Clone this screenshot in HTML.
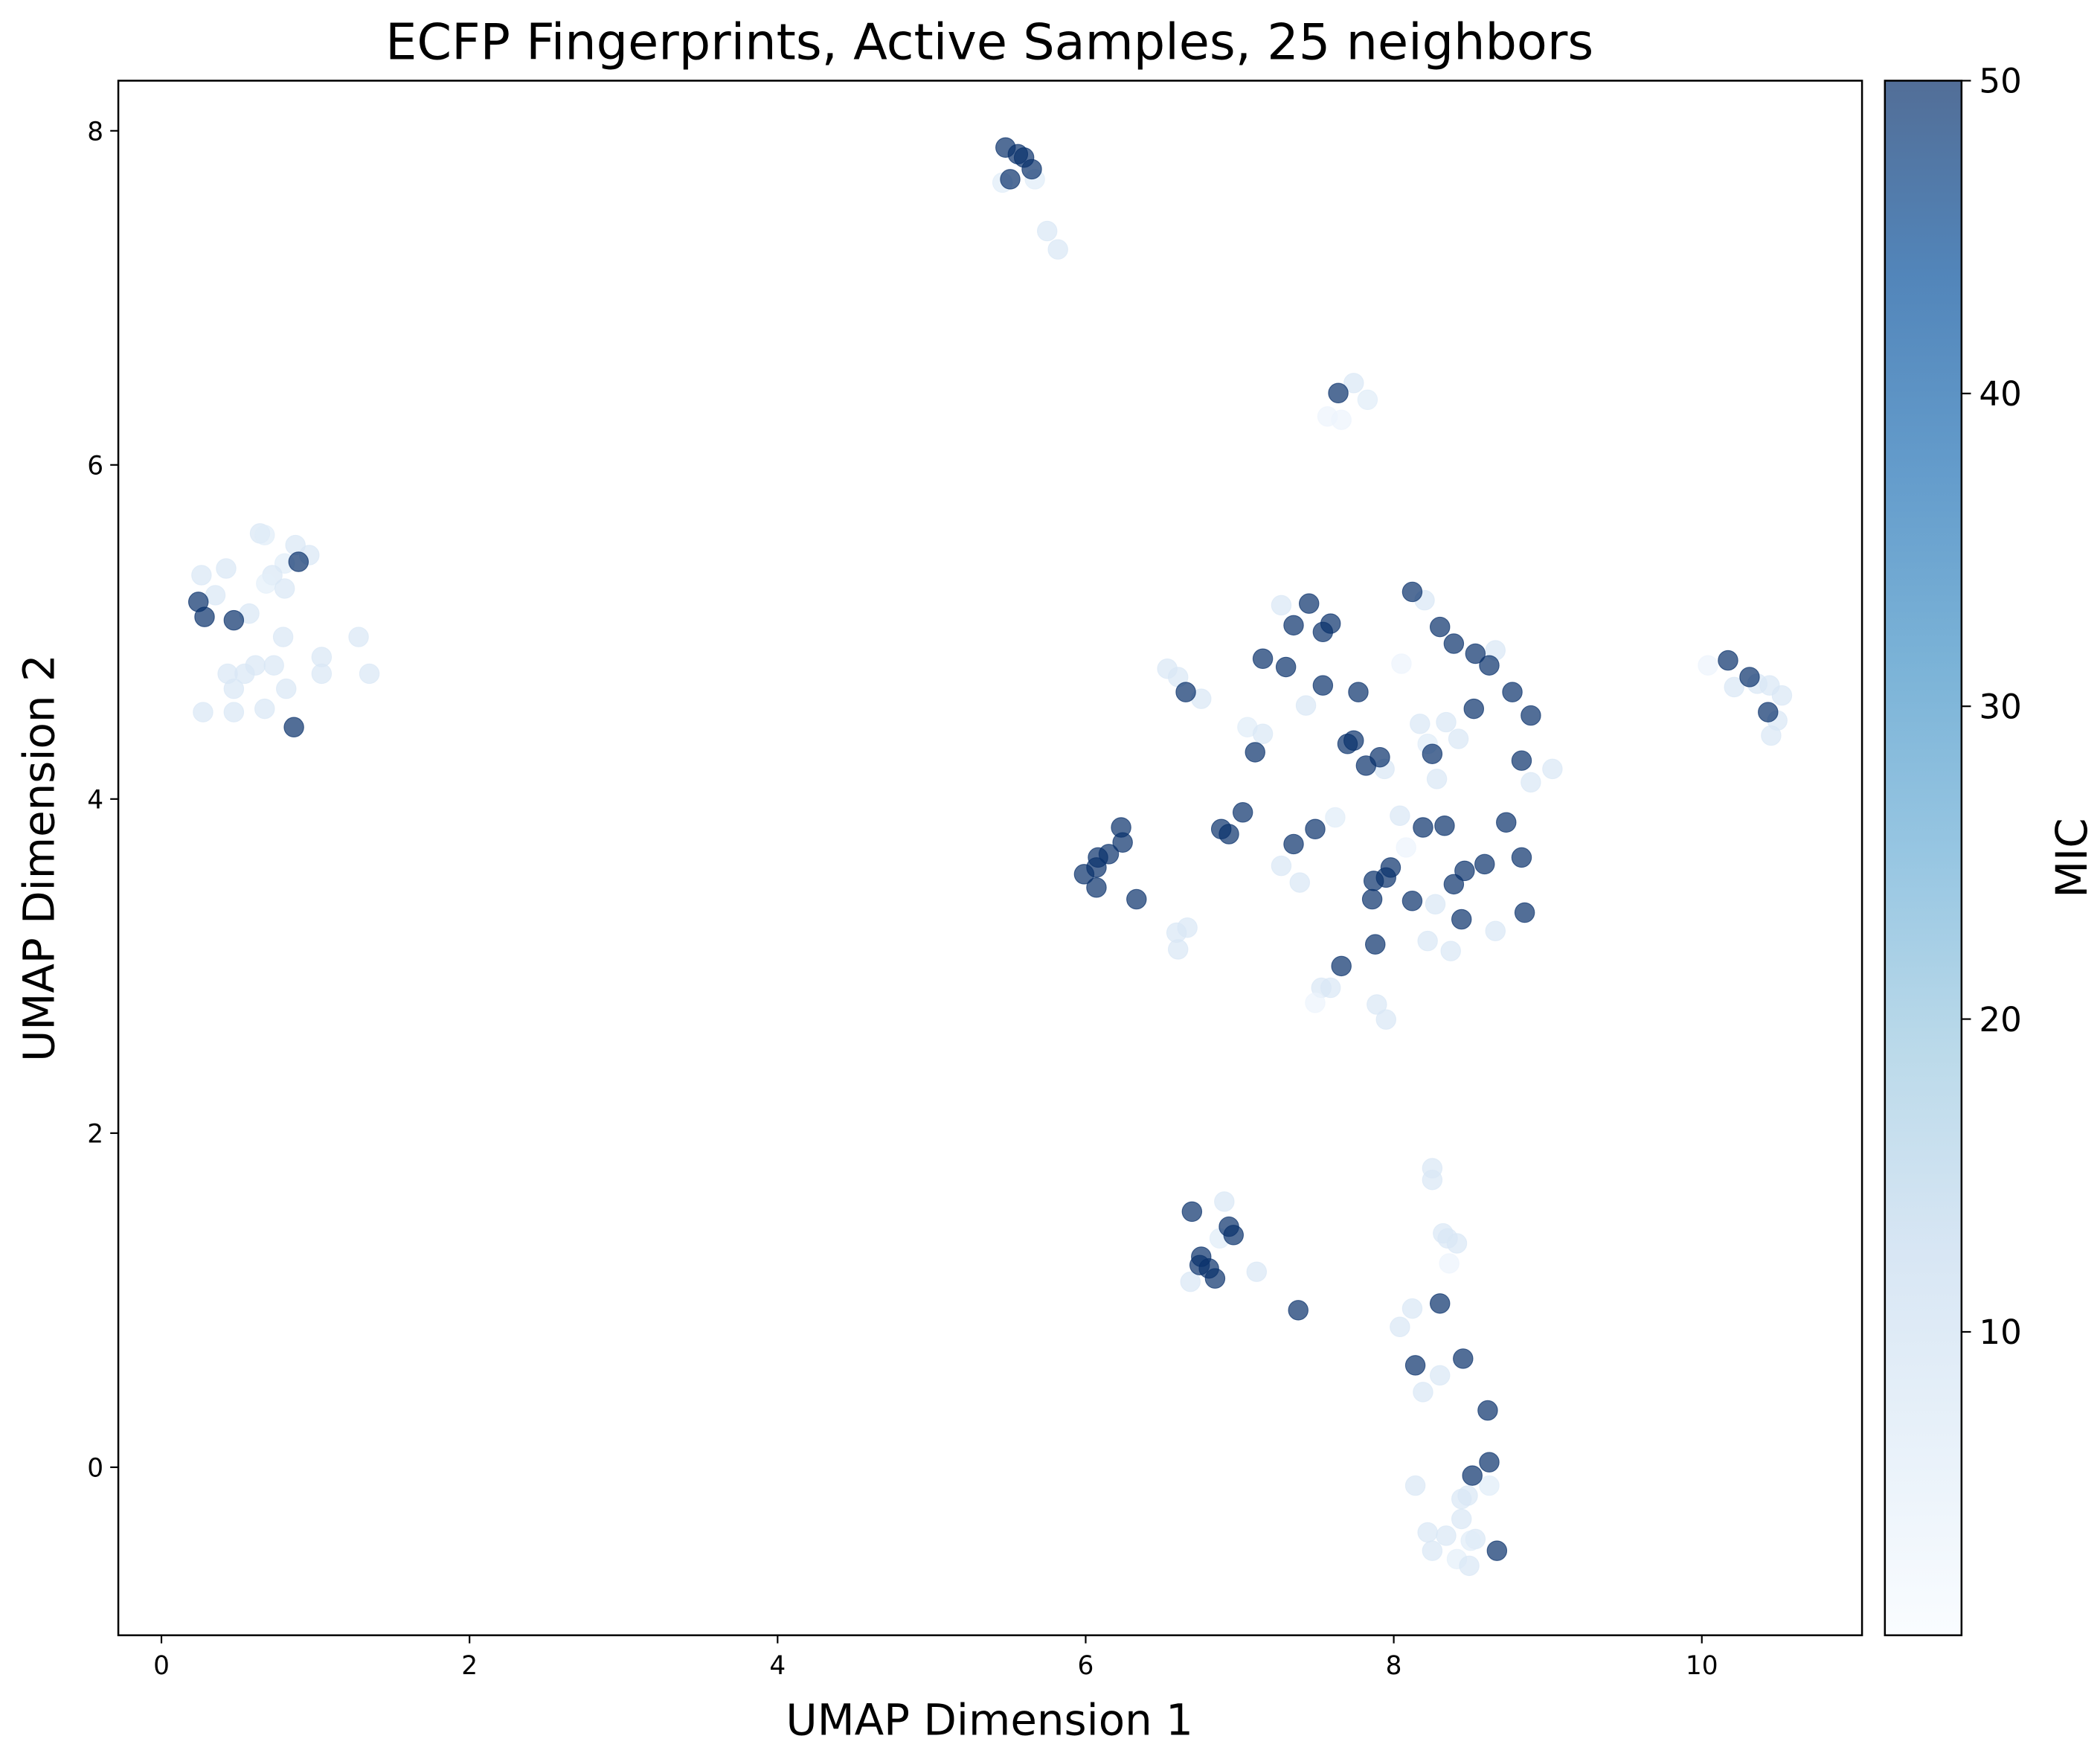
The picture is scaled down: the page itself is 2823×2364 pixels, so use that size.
<!DOCTYPE html>
<html><head><meta charset="utf-8"><style>
html,body{margin:0;padding:0;background:#fff;}
svg{display:block;font-family:"DejaVu Sans","Liberation Sans",sans-serif;}
</style></head><body>
<svg id="chart" width="2823" height="2364" viewBox="0 0 1562 1308" preserveAspectRatio="none" xmlns="http://www.w3.org/2000/svg">
<defs>
<linearGradient id="cbgrad" x1="0" y1="1" x2="0" y2="0">
<stop offset="0" stop-color="#f7fbff" stop-opacity="0.7"/>
<stop offset="0.125" stop-color="#deebf7" stop-opacity="0.7"/>
<stop offset="0.25" stop-color="#c6dbef" stop-opacity="0.7"/>
<stop offset="0.375" stop-color="#9ecae1" stop-opacity="0.7"/>
<stop offset="0.5" stop-color="#6baed6" stop-opacity="0.7"/>
<stop offset="0.625" stop-color="#4292c6" stop-opacity="0.7"/>
<stop offset="0.75" stop-color="#2171b5" stop-opacity="0.7"/>
<stop offset="0.875" stop-color="#08519c" stop-opacity="0.7"/>
<stop offset="1" stop-color="#08306b" stop-opacity="0.7"/>
</linearGradient>
</defs>
<text x="736" y="44" font-size="37" text-anchor="middle">ECFP Fingerprints, Active Samples, 25 neighbors</text>
<g id="points"></g>
<rect x="88" y="60" width="1297" height="1156" fill="none" stroke="#000" stroke-width="1.4"/>
<g id="xticks"></g>
<g id="yticks"></g>
<text x="736" y="1290" font-size="32" text-anchor="middle">UMAP Dimension 1</text>
<text x="0" y="0" font-size="32" text-anchor="middle" transform="translate(40,638) rotate(-90)">UMAP Dimension 2</text>
<rect x="1402" y="60" width="57" height="1156" fill="url(#cbgrad)" stroke="#000" stroke-width="1.4"/>
<g id="cbticks"></g>
<text x="0" y="0" font-size="32" text-anchor="middle" transform="translate(1552,638) rotate(-90)">MIC</text>
</svg>
<script>
const xTicks = [0, 2, 4, 6, 8, 10];
const yTicks = [0, 2, 4, 6, 8];
const cbTicks = [10, 20, 30, 40, 50];
const darkX = [5.48,5.56,5.60,5.65,5.51,7.64,0.89,0.24,0.28,0.47,0.86,8.12,7.45,7.35,7.59,7.54,8.30,8.39,8.53,8.62,7.15,7.30,7.54,7.77,6.65,8.77,8.52,8.89,7.70,7.74,8.25,7.10,7.91,7.82,8.83,7.02,8.73,6.23,6.88,6.93,7.49,8.19,8.33,6.24,7.35,6.15,6.08,8.83,7.98,6.07,8.59,8.46,5.99,7.95,7.87,8.39,6.07,6.33,7.86,8.12,8.44,8.85,7.88,7.66,10.17,10.31,10.43,6.69,6.93,6.96,6.75,6.74,6.80,6.84,7.38,8.30,8.45,8.14,8.61,8.62,8.51,8.67];
const darkY = [7.90,7.86,7.84,7.77,7.71,6.43,5.42,5.18,5.09,5.07,4.43,5.24,5.17,5.04,5.05,5.00,5.03,4.93,4.87,4.80,4.84,4.79,4.68,4.64,4.64,4.64,4.54,4.50,4.33,4.35,4.27,4.28,4.25,4.20,4.23,3.92,3.86,3.83,3.82,3.79,3.82,3.83,3.84,3.74,3.73,3.67,3.65,3.65,3.59,3.59,3.61,3.57,3.55,3.53,3.51,3.49,3.47,3.40,3.40,3.39,3.28,3.32,3.13,3.00,4.83,4.73,4.52,1.53,1.44,1.39,1.26,1.21,1.19,1.13,0.94,0.98,0.65,0.61,0.34,0.03,-0.05,-0.50];
const darkMIC = 50;
const lightX = [5.46,5.67,5.75,5.82,7.74,7.83,7.57,7.66,0.64,0.67,0.87,0.96,0.80,0.42,0.26,0.72,0.68,0.80,0.35,0.57,0.79,1.28,1.04,0.61,0.73,0.43,0.54,1.04,1.35,0.47,0.81,0.27,0.47,0.67,7.27,8.20,8.05,8.66,6.53,6.60,6.75,7.43,8.34,8.17,7.05,7.15,8.42,8.22,7.94,9.03,8.28,8.89,8.04,7.62,8.08,7.27,7.39,8.27,6.66,6.59,6.60,8.66,8.22,8.37,7.53,7.59,7.49,7.89,7.95,10.04,10.21,10.36,10.44,10.52,10.49,10.45,6.90,6.87,7.11,6.68,8.25,8.25,8.32,8.35,8.41,8.36,8.12,8.04,8.30,8.19,8.14,8.62,8.44,8.48,8.44,8.22,8.34,8.53,8.50,8.25,8.41,8.49];
const lightY = [7.69,7.71,7.40,7.29,6.49,6.39,6.29,6.27,5.59,5.58,5.52,5.46,5.41,5.38,5.34,5.34,5.29,5.26,5.22,5.11,4.97,4.97,4.85,4.80,4.80,4.75,4.75,4.75,4.75,4.66,4.66,4.52,4.52,4.54,5.16,5.19,4.81,4.89,4.78,4.73,4.60,4.56,4.46,4.45,4.43,4.39,4.36,4.33,4.18,4.18,4.12,4.10,3.90,3.89,3.71,3.60,3.50,3.37,3.23,3.20,3.10,3.21,3.15,3.09,2.87,2.87,2.78,2.77,2.68,4.80,4.67,4.69,4.68,4.62,4.47,4.38,1.59,1.37,1.17,1.11,1.79,1.72,1.40,1.37,1.34,1.22,0.95,0.84,0.55,0.45,-0.11,-0.11,-0.19,-0.17,-0.31,-0.39,-0.41,-0.43,-0.44,-0.50,-0.55,-0.59];
const lightMIC = [6,6,8,8,8,6,3,3,8,6,8,8,6,8,8,8,5,8,8,8,8,8,8,8,8,8,8,8,8,8,8,8,8,8,8,8,3,8,8,8,8,8,8,8,6,8,8,6,8,8,8,8,8,6,3,8,8,8,8,8,8,8,8,8,8,8,3,8,8,3,8,8,8,8,8,8,8,6,8,8,8,8,8,8,8,3,8,8,8,8,8,6,8,8,8,8,8,8,6,8,5,8];

const NS='http://www.w3.org/2000/svg';
const X0=-0.28, X1=11.04, Y0=-1.006, Y1=8.30, PL=88, PR=1385, PT=60, PB=1216;
const VMIN=0.3, VMAX=50;
function sx(v){return PL+(v-X0)/(X1-X0)*(PR-PL);}
function sy(v){return PB-(v-Y0)/(Y1-Y0)*(PB-PT);}
function cy(v){return PB-(v-VMIN)/(VMAX-VMIN)*(PB-PT);}
const stops=[[247,251,255],[222,235,247],[198,219,239],[158,202,225],[107,174,214],[66,146,198],[33,113,181],[8,81,156],[8,48,107]];
function cmap(v){let t=Math.max(0,Math.min(1,(v-VMIN)/(VMAX-VMIN)))*8;let i=Math.min(7,Math.floor(t));let f=t-i;
const c=stops[i].map((a,k)=>Math.round(a+(stops[i+1][k]-a)*f));return 'rgb('+c.join(',')+')';}
function mk(tag,attrs){const e=document.createElementNS(NS,tag);for(const k in attrs)e.setAttribute(k,attrs[k]);return e;}
const pts=document.getElementById('points');
function addPoint(x,y,v){const c=mk('circle',{cx:sx(x),cy:sy(y),r:7.3,fill:cmap(v),'fill-opacity':0.7,stroke:cmap(v),'stroke-opacity':0.7,'stroke-width':0.6});


pts.appendChild(c);}
for(let i=0;i<lightX.length;i++)addPoint(lightX[i],lightY[i],lightMIC[i]);
for(let i=0;i<darkX.length;i++)addPoint(darkX[i],darkY[i],darkMIC);
const xg=document.getElementById('xticks');
xTicks.forEach(t=>{const x=sx(t);
const l=mk('line',{x1:x,x2:x,y1:PB,y2:PB+6,stroke:'#000','stroke-width':1.2});


xg.appendChild(l);
const tx=mk('text',{x:x,y:PB+29,'font-size':19,'text-anchor':'middle'});tx.textContent=t;


xg.appendChild(tx);});
const yg=document.getElementById('yticks');
yTicks.forEach(t=>{const y=sy(t);
const l=mk('line',{x1:PL-6,x2:PL,y1:y,y2:y,stroke:'#000','stroke-width':1.2});


yg.appendChild(l);
const tx=mk('text',{x:PL-11,y:y+7,'font-size':19,'text-anchor':'end'});tx.textContent=t;


yg.appendChild(tx);});
const cg=document.getElementById('cbticks');
cbTicks.forEach(t=>{const y=cy(t);
const l=mk('line',{x1:1459,x2:1466,y1:y,y2:y,stroke:'#000','stroke-width':1.2});


cg.appendChild(l);
const tx=mk('text',{x:1472,y:y+9,'font-size':25,'text-anchor':'start'});tx.textContent=t;


cg.appendChild(tx);});
</script>
</body></html>
